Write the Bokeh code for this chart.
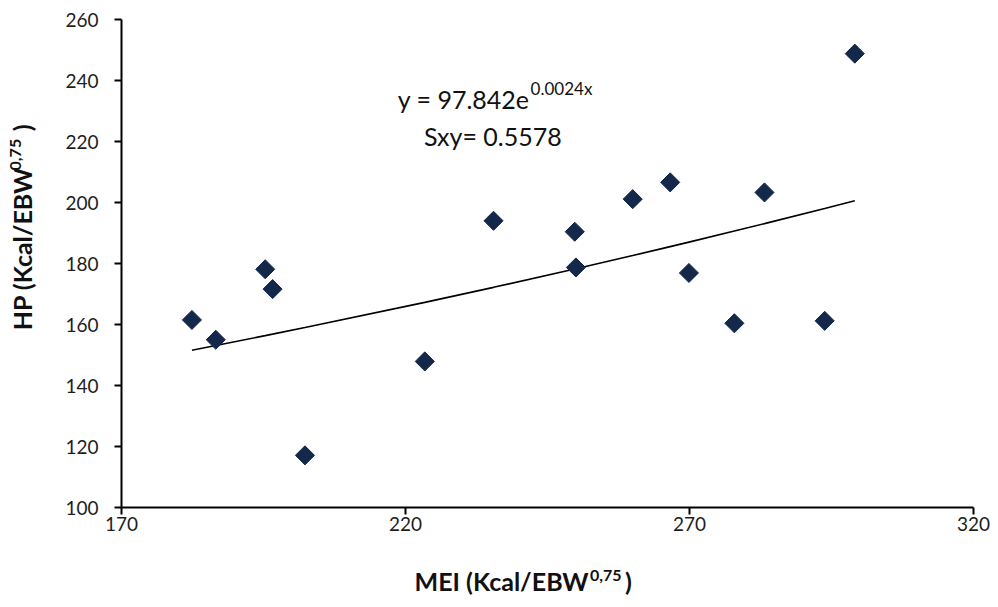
import numpy as np
from bokeh.plotting import figure
from bokeh.models import Label, FixedTicker, Range1d, LinearAxis
from bokeh.embed import file_html
from bokeh.resources import INLINE

# ---- data ----
mei = [182.4, 186.6, 195.3, 196.6, 202.3, 223.4, 235.5, 249.8, 250.0, 260.0,
       266.6, 269.9, 277.9, 283.2, 293.8, 299.1]
hp = [161.5, 155.0, 178.1, 171.6, 117.1, 147.9, 194.0, 190.4, 178.7, 201.1,
      206.6, 176.9, 160.4, 203.3, 161.2, 248.8]
x_ticks = [170, 220, 270, 320]
y_ticks = [100, 120, 140, 160, 180, 200, 220, 240, 260]
fit_a = 97.842
fit_b = 0.0024
eq_main = "y = 97.842e"
eq_sup = "0.0024x"
sxy_text = "Sxy= 0.5578"
x_title = "MEI (Kcal/EBW"
y_title = "HP (Kcal/EBW"
title_sup = "0,75"

FONT = "Lato"
W, H = 990, 599
FL, FR, FT, FB = 121, 973, 19, 507   # frame edges in px

p = figure(width=W, height=H, output_backend="svg", toolbar_location=None,
           x_range=Range1d(170, 320), y_range=Range1d(100, 260),
           min_border_left=FL, min_border_right=W - FR,
           min_border_top=FT, min_border_bottom=H - FB)
p.outline_line_color = None
p.grid.visible = False
p.background_fill_color = "white"
p.border_fill_color = "white"

for ax, ticks in ((p.xaxis, x_ticks), (p.yaxis, y_ticks)):
    ax.ticker = FixedTicker(ticks=ticks)
    ax.axis_line_color = "black"
    ax.axis_line_width = 2
    ax.major_tick_line_color = "black"
    ax.major_tick_line_width = 2
    ax.major_tick_out = 7
    ax.major_tick_in = 0
    ax.minor_tick_line_color = None
    ax.major_label_text_font = FONT
    ax.major_label_text_font_size = "19px"
    ax.major_label_text_color = "#1e1e1e"
    ax.axis_label_text_font = FONT
    ax.axis_label_text_font_style = "bold"
    ax.axis_label_text_color = "#111111"
p.xaxis.major_label_standoff = 2
p.yaxis.major_label_standoff = 16

NB = "\u00a0"

# x title: superscript carried by the x axis label, main text by a bare axis
p.xaxis.axis_label = NB * 30 + title_sup
p.xaxis.axis_label_text_font_size = "16px"
p.xaxis.axis_label_standoff = 31

# y title: main text carried by the y axis label, superscript by a bare axis
p.yaxis.axis_label = NB * 12 + y_title + NB * 6 + ")"
p.yaxis.axis_label_text_font_size = "25px"
p.yaxis.axis_label_standoff = 25


def bare_axis(text, size, standoff):
    return LinearAxis(ticker=FixedTicker(ticks=[]), axis_line_color=None,
                      major_tick_line_color=None, minor_tick_line_color=None,
                      major_tick_out=0, minor_tick_out=0, major_label_standoff=0,
                      axis_label=text, axis_label_text_font=FONT,
                      axis_label_text_font_size=f"{size}px",
                      axis_label_text_font_style="bold",
                      axis_label_text_color="#111111",
                      axis_label_standoff=standoff)


p.add_layout(bare_axis(x_title + NB * 6 + ")" + NB * 8, 25, -21), "below")
p.add_layout(bare_axis(NB * 56 + title_sup, 16, -19), "left")

# trend line from the displayed equation
xs = np.array(sorted(mei))
p.line(xs, fit_a * np.exp(fit_b * xs), line_color="black", line_width=1.6)

# points
p.scatter(mei, hp, marker="square", angle=np.pi / 4, size=13.5,
          fill_color="#14284c", line_color="#14284c")


def X(px):   # reference pixel -> data
    return 170 + (px - 121) * 150 / 858


def Y(py):
    return 260 - (py - 19) * 160 / 488


def lab(text, px, py, size, align="left"):
    p.add_layout(Label(x=X(px), y=Y(py), text=text, text_font=FONT,
                       text_font_size=f"{size}px", text_align=align,
                       text_baseline="alphabetic", text_color="#111111"))


lab(eq_main, 532, 98, 25, align="right")
lab(eq_sup, 533, 88, 17, align="left")
lab(sxy_text, 495, 135, 25, align="center")

open("out.html", "w").write(file_html(p, INLINE))
